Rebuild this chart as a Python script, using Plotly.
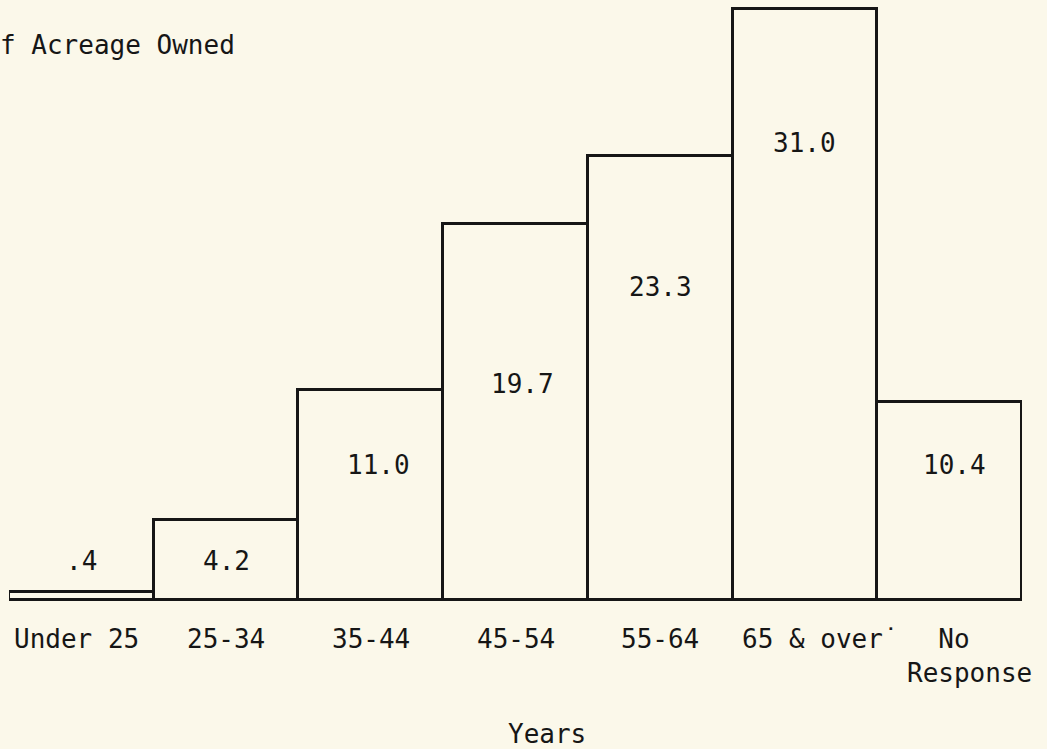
import plotly.graph_objects as go

categories = ["Under 25", "25-34", "35-44", "45-54", "55-64", "65 & over", "No Response"]
tick_labels = ["Under 25", "25-34", "35-44", "45-54", "55-64", "65 & over\u02d9", "\u00a0\u00a0No<br>Response"]
values = [0.4, 4.2, 11.0, 19.7, 23.3, 31.0, 10.4]
value_labels = [".4", "4.2", "11.0", "19.7", "23.3", "31.0", "10.4"]
label_y = [2.05, 2.05, 7.1, 11.35, 16.4, 23.95, 7.1]

BG = "#FBF8EA"
INK = "#161616"
FONT = "DejaVu Sans Mono"

fig = go.Figure()
fig.add_trace(go.Bar(
    x=categories, y=values,
    marker=dict(color=BG, line=dict(color=INK, width=3)),
    hoverinfo="skip",
))

value_xshift = [0, 0, 8, 7, 0, 0, 5]
tick_xshift = [-5, 0, 0, 0, 0, 16, 20]

annotations = []
for c, lab, ly, dx in zip(categories, value_labels, label_y, value_xshift):
    annotations.append(dict(x=c, y=ly, xref="x", yref="y", text=lab, showarrow=False,
                            font=dict(family=FONT, size=26, color=INK),
                            xanchor="center", yanchor="middle", xshift=dx))
for c, t, dx in zip(categories, tick_labels, tick_xshift):
    multi = "<br>" in t
    annotations.append(dict(x=c, y=0, xref="x", yref="y", text=t, showarrow=False,
                            font=dict(family=FONT, size=26, color=INK),
                            xanchor="center", yanchor="middle", align="left",
                            yshift=-56 if multi else -39, xshift=dx))
annotations.append(dict(x=0.531, y=0, xref="paper", yref="paper", text="Years", showarrow=False,
                        font=dict(family=FONT, size=26, color=INK),
                        xanchor="center", yanchor="middle", yshift=-129))

fig.update_layout(
    width=1047, height=749,
    margin=dict(l=9, r=25, t=4, b=144),
    paper_bgcolor=BG, plot_bgcolor=BG,
    bargap=0, showlegend=False,
    title=dict(text="f Acreage Owned", x=0, xref="container", xanchor="left",
               y=1 - 45 / 749, yref="container", yanchor="middle",
               font=dict(family=FONT, size=26, color=INK)),
    xaxis=dict(range=[-0.5, 6.5], showticklabels=False, showgrid=False, zeroline=False,
               showline=False, ticks=""),
    yaxis=dict(range=[-0.26, 31.26], showticklabels=False, showgrid=False, zeroline=False,
               showline=False, ticks=""),
    annotations=annotations,
)

fig.write_html(
    "out.html",
    config={"displayModeBar": False},
    post_script="document.body.style.margin='0';document.body.style.overflow='hidden';"
                "document.body.style.background='" + BG + "';",
)
